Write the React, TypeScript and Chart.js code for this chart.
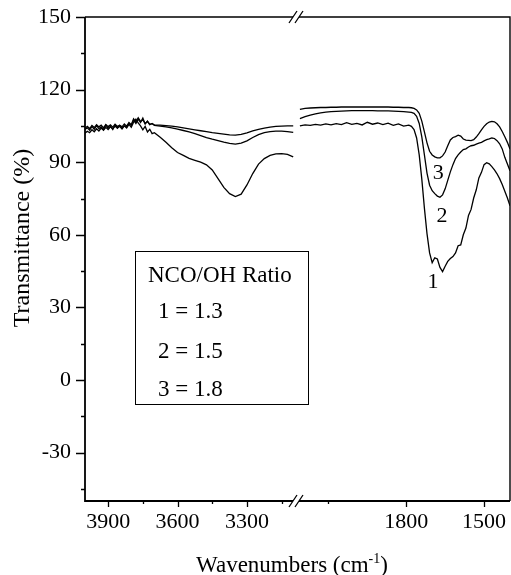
import { useEffect, useRef } from 'react';
import { Chart, registerables } from 'chart.js';

Chart.register(...registerables);

const FONT = "'Liberation Serif', 'Times New Roman', serif";

// ---- Left segment (O-H / N-H region) ----
const leftWavenumbers = [4000, 3990, 3980, 3970, 3960, 3950, 3940, 3930, 3920, 3910, 3900, 3890, 3880, 3870, 3860, 3850, 3840, 3830, 3820, 3810, 3800, 3790, 3780, 3770, 3760, 3750, 3740, 3730, 3720, 3710, 3700, 3675, 3650, 3625, 3600, 3575, 3550, 3525, 3500, 3475, 3450, 3425, 3400, 3375, 3350, 3325, 3300, 3275, 3250, 3225, 3200, 3175, 3150, 3125, 3100];
const leftCurve1 = [103.5, 104.2, 103.2, 104.8, 103.6, 105.1, 103.9, 104.6, 103.4, 105.3, 104.0, 104.9, 103.5, 105.4, 104.2, 104.8, 103.7, 105.0, 104.1, 105.6, 104.4, 106.5, 107.8, 106.2, 105.0, 103.4, 104.8, 102.5, 103.6, 101.8, 102.2, 100.3, 98.2, 96.0, 94.0, 92.8, 91.6, 90.8, 90.0, 88.9, 86.8, 83.2, 79.6, 77.0, 75.8, 76.8, 80.6, 85.3, 89.2, 91.5, 92.8, 93.4, 93.5, 93.2, 92.2];
const leftCurve2 = [102.0, 102.8, 102.2, 103.4, 102.6, 103.8, 102.9, 104.1, 103.2, 104.4, 103.5, 104.6, 103.8, 104.9, 104.0, 105.2, 104.3, 105.0, 104.5, 106.0, 105.2, 107.4, 106.0, 107.8, 106.4, 108.2, 105.8, 107.0, 105.5, 106.0, 105.2, 104.9, 104.6, 104.2, 103.7, 103.1, 102.5, 101.8, 101.0, 100.2, 99.5, 98.9, 98.3, 97.8, 97.5, 97.9, 98.8, 100.2, 101.4, 102.2, 102.6, 102.8, 102.8, 102.6, 102.3];
const leftCurve3 = [104.0, 104.8, 103.9, 105.2, 104.3, 105.5, 104.6, 105.3, 104.2, 105.6, 104.7, 105.4, 104.5, 105.7, 104.8, 105.3, 104.6, 105.8, 104.9, 106.4, 105.5, 107.9, 106.7, 108.4, 106.9, 107.5, 106.0, 106.8, 105.6, 105.9, 105.4, 105.3, 105.1, 104.9, 104.6, 104.2, 103.8, 103.4, 103.0, 102.6, 102.2, 101.9, 101.6, 101.3, 101.2, 101.5, 102.1, 102.9, 103.6, 104.1, 104.5, 104.8, 104.9, 105.0, 105.0];

// ---- Right segment (C=O region) ----
const rightWavenumbers = [2210, 2190, 2170, 2150, 2130, 2110, 2090, 2070, 2050, 2030, 2010, 1990, 1970, 1950, 1930, 1910, 1890, 1870, 1850, 1830, 1810, 1790, 1780, 1770, 1760, 1750, 1740, 1730, 1720, 1710, 1700, 1690, 1680, 1670, 1660, 1650, 1640, 1630, 1620, 1610, 1600, 1590, 1580, 1570, 1560, 1550, 1540, 1530, 1520, 1510, 1500, 1490, 1480, 1470, 1460, 1450, 1440, 1430, 1420, 1410, 1400];
const rightCurve1 = [105.0, 105.4, 105.2, 105.6, 105.3, 105.8, 105.4, 105.9, 105.5, 106.3, 105.6, 106.0, 105.4, 106.5, 105.7, 106.2, 105.5, 106.1, 105.2, 105.8, 104.9, 105.3, 104.8, 103.5, 100.0, 93.0, 83.0, 71.0, 60.5, 52.5, 48.5, 50.5, 50.0, 46.5, 44.8, 47.0, 49.0, 50.2, 51.0, 52.5, 55.5, 55.8, 60.0, 62.8, 68.0, 70.5, 75.2, 78.6, 83.5, 85.8, 89.0, 89.8, 89.3, 88.2, 86.8, 85.2, 83.2, 80.8, 78.0, 75.2, 72.0];
const rightCurve2 = [108.0, 108.8, 109.5, 110.0, 110.4, 110.7, 110.9, 111.0, 111.1, 111.2, 111.3, 111.3, 111.3, 111.3, 111.3, 111.2, 111.2, 111.2, 111.1, 111.0, 110.9, 110.7, 110.6, 110.2, 109.0, 106.0, 100.5, 93.0, 85.5, 80.5, 78.2, 77.0, 76.0, 75.5, 76.5, 79.0, 82.5, 86.0, 89.0, 91.5, 93.0, 94.2, 95.2, 95.5, 96.3, 96.8, 97.0, 97.5, 97.9, 98.2, 98.8, 99.3, 99.6, 100.0, 99.8, 98.9, 97.6, 95.5, 92.0, 89.3, 86.5];
const rightCurve3 = [111.8, 112.2, 112.4, 112.5, 112.6, 112.6, 112.7, 112.7, 112.8, 112.8, 112.8, 112.8, 112.8, 112.8, 112.8, 112.8, 112.8, 112.8, 112.7, 112.7, 112.6, 112.6, 112.5, 112.2, 111.6, 110.2, 107.0, 102.5, 98.0, 94.5, 93.0, 92.2, 91.8, 91.8, 92.6, 94.2, 96.8, 99.2, 100.2, 100.6, 101.2, 100.8, 99.6, 99.1, 99.0, 98.9, 99.3, 100.4, 101.8, 103.4, 104.8, 105.9, 106.6, 106.9, 106.7, 105.9, 104.6, 102.7, 100.5, 98.2, 95.5];

// ---- Ticks / labels ----
const yTicks = [-45, -30, -15, 0, 15, 30, 45, 60, 75, 90, 105, 120, 135, 150];
const yLabeled = [-30, 0, 30, 60, 90, 120, 150];
const leftXTicks = [3900, 3750, 3600, 3450, 3300, 3150];
const leftXLabeled = [3900, 3600, 3300];
const rightXTicks = [2100, 1800, 1500];
const rightXLabeled = [1800, 1500];

const legendTitle = 'NCO/OH Ratio';
const legendEntries = ['1 = 1.3', '2 = 1.5', '3 = 1.8'];
const curveNames = ['1', '2', '3'];
// label anchors in data units (wavenumber, transmittance)
const curveLabelWn = [1697, 1662, 1677];
const curveLabelT = [41.3, 68.2, 86.0];

const yTitle = 'Transmittance (%)';
const xTitleMain = 'Wavenumbers (cm';
const xTitleSup = '-1';
const xTitleEnd = ')';

function toPoints(xs: number[], ys: number[]) {
  return xs.map((x, i) => ({ x, y: ys[i] }));
}

const decorPlugin = {
  id: 'decor',
  afterDraw(chart: any) {
    const ctx = chart.ctx as CanvasRenderingContext2D;
    const { left, right, top, bottom } = chart.chartArea;
    const xL = chart.scales.xL;
    const xR = chart.scales.xR;
    const y = chart.scales.y;
    const brk = xL.right;
    ctx.save();
    ctx.strokeStyle = '#000';
    ctx.fillStyle = '#000';
    ctx.lineCap = 'butt';

    // frame
    ctx.lineWidth = 1.8;
    ctx.beginPath();
    ctx.moveTo(left, top);
    ctx.lineTo(left, bottom);
    ctx.lineTo(right, bottom);
    ctx.stroke();
    ctx.lineWidth = 1.4;
    ctx.beginPath();
    ctx.moveTo(left, top);
    ctx.lineTo(right, top);
    ctx.lineTo(right, bottom);
    ctx.stroke();

    // break marks
    ctx.fillStyle = '#fff';
    ctx.fillRect(brk - 3, top - 2, 6, 4);
    ctx.fillRect(brk - 3, bottom - 2, 6, 4);
    ctx.lineWidth = 1.3;
    [top, bottom].forEach((yy) => {
      ctx.beginPath();
      ctx.moveTo(brk - 7, yy + 6);
      ctx.lineTo(brk + 1, yy - 6);
      ctx.moveTo(brk - 1, yy + 6);
      ctx.lineTo(brk + 7, yy - 6);
      ctx.stroke();
    });

    // ticks
    ctx.lineWidth = 1.3;
    ctx.beginPath();
    yTicks.forEach((v) => {
      const py = Math.round(y.getPixelForValue(v)) + 0.5;
      const len = yLabeled.includes(v) ? 9 : 4;
      ctx.moveTo(left - len, py);
      ctx.lineTo(left, py);
    });
    leftXTicks.forEach((v) => {
      const px = Math.round(xL.getPixelForValue(v)) + 0.5;
      const len = leftXLabeled.includes(v) ? 6 : 3;
      ctx.moveTo(px, bottom);
      ctx.lineTo(px, bottom + len);
    });
    rightXTicks.forEach((v) => {
      const px = Math.round(xR.getPixelForValue(v)) + 0.5;
      const len = rightXLabeled.includes(v) ? 6 : 3;
      ctx.moveTo(px, bottom);
      ctx.lineTo(px, bottom + len);
    });
    ctx.stroke();

    // legend box
    ctx.fillStyle = '#000';
    ctx.lineWidth = 1;
    ctx.strokeRect(135.5, 251.5, 173, 153);
    ctx.font = `23px ${FONT}`;
    ctx.textAlign = 'left';
    ctx.textBaseline = 'alphabetic';
    ctx.fillText(legendTitle, 148, 282);
    const entryY = [318, 358, 396];
    legendEntries.forEach((t, i) => ctx.fillText(t, 158, entryY[i]));

    // curve labels
    ctx.font = `22px ${FONT}`;
    ctx.textAlign = 'center';
    curveNames.forEach((t, i) => {
      const px = xR.getPixelForValue(curveLabelWn[i]);
      const py = y.getPixelForValue(curveLabelT[i]);
      ctx.fillText(t, px, py + 7.5);
    });

    // y title
    ctx.save();
    ctx.font = `24px ${FONT}`;
    ctx.translate(29, 238);
    ctx.rotate(-Math.PI / 2);
    ctx.textAlign = 'center';
    ctx.fillText(yTitle, 0, 0);
    ctx.restore();

    // x title with superscript
    ctx.textAlign = 'left';
    ctx.font = `23px ${FONT}`;
    const w1 = ctx.measureText(xTitleMain).width;
    const w3 = ctx.measureText(xTitleEnd).width;
    ctx.font = `14px ${FONT}`;
    const w2 = ctx.measureText(xTitleSup).width;
    const total = w1 + w2 + w3;
    const x0 = 292 - total / 2;
    const base = 572;
    ctx.font = `23px ${FONT}`;
    ctx.fillText(xTitleMain, x0, base);
    ctx.font = `14px ${FONT}`;
    ctx.fillText(xTitleSup, x0 + w1, base - 9);
    ctx.font = `23px ${FONT}`;
    ctx.fillText(xTitleEnd, x0 + w1 + w2, base);

    ctx.restore();
  },
};

function fitX(s: any) {
  s.height = 74;
  s.paddingLeft = 0;
  s.paddingRight = 0;
}

function fitY(s: any) {
  s.width = 85;
  s.paddingTop = 0;
  s.paddingBottom = 0;
}

export default function App() {
  const canvasRef = useRef<HTMLCanvasElement | null>(null);

  useEffect(() => {
    document.body.style.margin = '0';
    const canvas = canvasRef.current;
    if (!canvas) return;
    const lineStyle = {
      borderColor: '#000',
      borderWidth: 1.3,
      pointRadius: 0,
      fill: false,
      tension: 0,
    };
    const tickFont = { family: FONT, size: 22 };
    const chart = new Chart(canvas, {
      type: 'line',
      data: {
        datasets: [
          { ...lineStyle, label: '1L', data: toPoints(leftWavenumbers, leftCurve1), xAxisID: 'xL', yAxisID: 'y' },
          { ...lineStyle, label: '2L', data: toPoints(leftWavenumbers, leftCurve2), xAxisID: 'xL', yAxisID: 'y' },
          { ...lineStyle, label: '3L', data: toPoints(leftWavenumbers, leftCurve3), xAxisID: 'xL', yAxisID: 'y' },
          { ...lineStyle, label: '1R', data: toPoints(rightWavenumbers, rightCurve1), xAxisID: 'xR', yAxisID: 'y' },
          { ...lineStyle, label: '2R', data: toPoints(rightWavenumbers, rightCurve2), xAxisID: 'xR', yAxisID: 'y' },
          { ...lineStyle, label: '3R', data: toPoints(rightWavenumbers, rightCurve3), xAxisID: 'xR', yAxisID: 'y' },
        ],
      },
      options: {
        responsive: false,
        animation: false,
        devicePixelRatio: 1,
        layout: { padding: { top: 17, right: 1, left: 0, bottom: 0 } },
        plugins: { legend: { display: false }, tooltip: { enabled: false }, title: { display: false } },
        scales: {
          xL: {
            type: 'linear',
            position: 'bottom',
            stack: 'wn',
            stackWeight: 211,
            min: 3088,
            max: 4000,
            reverse: true,
            afterBuildTicks: (s: any) => { s.ticks = leftXTicks.map((v) => ({ value: v })); },
            afterFit: fitX,
            ticks: {
              autoSkip: false,
              maxRotation: 0,
              padding: 8,
              color: '#000',
              font: tickFont,
              callback: (v: any) => (leftXLabeled.includes(Number(v)) ? String(v) : ''),
            },
            grid: { display: false, drawTicks: false },
            border: { display: false },
          },
          xR: {
            type: 'linear',
            position: 'bottom',
            stack: 'wn',
            stackWeight: 214,
            min: 1400,
            max: 2225,
            reverse: true,
            afterBuildTicks: (s: any) => { s.ticks = rightXTicks.map((v) => ({ value: v })); },
            afterFit: fitX,
            ticks: {
              autoSkip: false,
              maxRotation: 0,
              padding: 8,
              color: '#000',
              font: tickFont,
              callback: (v: any) => (rightXLabeled.includes(Number(v)) ? String(v) : ''),
            },
            grid: { display: false, drawTicks: false },
            border: { display: false },
          },
          y: {
            type: 'linear',
            position: 'left',
            min: -50,
            max: 150,
            afterBuildTicks: (s: any) => { s.ticks = yTicks.map((v) => ({ value: v })); },
            afterFit: fitY,
            ticks: {
              autoSkip: false,
              padding: 14,
              color: '#000',
              font: tickFont,
              callback: (v: any) => (yLabeled.includes(Number(v)) ? String(v) : ''),
            },
            grid: { display: false, drawTicks: false },
            border: { display: false },
          },
        },
      } as any,
      plugins: [decorPlugin],
    });
    return () => chart.destroy();
  }, []);

  return (
    <div style={{ width: 511, height: 575, background: '#fff' }}>
      <canvas ref={canvasRef} width={511} height={575} style={{ display: 'block' }} />
    </div>
  );
}
